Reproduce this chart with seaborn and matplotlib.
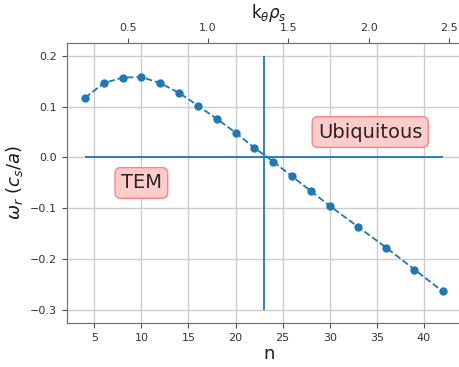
import matplotlib
matplotlib.use("Agg")
import matplotlib.pyplot as plt
import seaborn as sns
import pandas as pd

n_vals = [4, 6, 8, 10, 12, 14, 16, 18, 20, 22, 24, 26, 28, 30, 33, 36, 39, 42]
omega_r = [0.117, 0.146, 0.157, 0.158, 0.146, 0.127, 0.102, 0.076, 0.049, 0.019,
           -0.008, -0.037, -0.066, -0.095, -0.136, -0.177, -0.220, -0.263]
k_per_n = 0.0586
n_cross = 23
region_labels = ["TEM", "Ubiquitous"]

sns.set_style("ticks")
plt.rcParams.update({
    "axes.edgecolor": "0.45",
    "xtick.color": "0.3",
    "ytick.color": "0.3",
    "xtick.labelcolor": "0.2",
    "ytick.labelcolor": "0.2",
    "axes.labelcolor": "0.1",
})

df = pd.DataFrame({"n": n_vals, "omega": omega_r})

fig = plt.figure(figsize=(4.59, 3.67), dpi=100)
ax = fig.add_axes([0.146, 0.12, 0.88, 0.763])

sns.lineplot(data=df, x="n", y="omega", ax=ax, color="#1f77b4", linestyle="--",
             marker="o", markersize=6, markeredgewidth=0, linewidth=1.3)

ax.hlines(0, n_vals[0], n_vals[-1], color="#1f77b4", linewidth=1.3)
ax.vlines(n_cross, -0.3, 0.2, color="#1f77b4", linewidth=1.3)

xmin, xmax = 2.1, 45.0
ax.set_xlim(xmin, xmax)
ax.set_ylim(-0.325, 0.225)
ax.set_xticks([5, 10, 15, 20, 25, 30, 35, 40])
ax.set_yticks([-0.3, -0.2, -0.1, 0.0, 0.1, 0.2])
ax.grid(True, color="#cccccc", linewidth=1.0)
ax.tick_params(labelsize=8, length=3.5)
ax.set_xlabel("n", fontsize=13, labelpad=2)
ax.set_ylabel(r"$\omega_r$ ($c_s/a$)", fontsize=13, labelpad=4)

box = dict(boxstyle="round,pad=0.3", fc=(1, 0.8, 0.8), ec=(1, 0.5, 0.5))
ax.text(10, -0.05, region_labels[0], fontsize=14, ha="center", va="center", bbox=box)
ax.text(34.3, 0.05, region_labels[1], fontsize=14, ha="center", va="center", bbox=box)

ax2 = ax.twiny()
ax2.set_xlim(xmin * k_per_n, xmax * k_per_n)
ax2.set_xticks([0.5, 1.0, 1.5, 2.0, 2.5])
ax2.tick_params(labelsize=8, length=3.5)
ax2.set_xlabel(r"k$_\theta\rho_s$", fontsize=12, labelpad=4)
ax2.grid(False)

fig.savefig("out.png", dpi=100)
